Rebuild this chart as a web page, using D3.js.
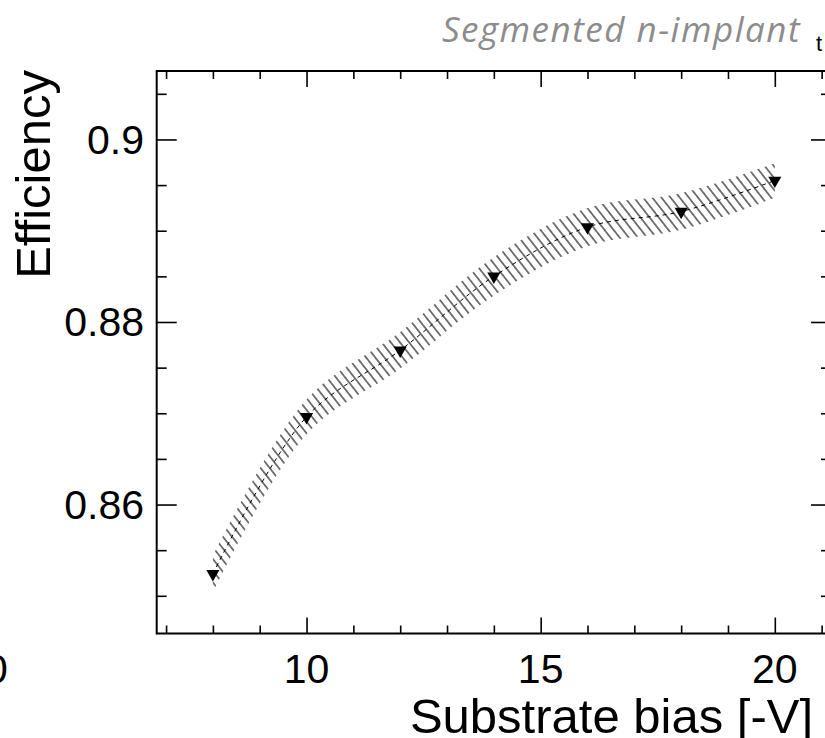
<!DOCTYPE html>
<html lang="en">
<head>
<meta charset="UTF-8">
<title>Efficiency vs substrate bias</title>
<script src="https://cdn.jsdelivr.net/npm/d3@7"></script>
<style>
  body { margin: 0; background: #fff; }
  svg { display: block; }
</style>
</head>
<body>
<svg width="825" height="738"></svg>
<script>
// values
var biasV = [8, 10, 12, 14, 16, 18, 20];
var efficiency = [0.8524, 0.8696, 0.8769, 0.8850, 0.8904, 0.8921, 0.8955];
var effErr = [0.0020, 0.0019, 0.0020, 0.0021, 0.0021, 0.0020, 0.0019];
var xMajorTicks = [10, 15, 20];
var xMinorTicks = [7, 8, 9, 11, 12, 13, 14, 16, 17, 18, 19, 21];
var yMajorTicks = [0.86, 0.88, 0.9];
var yMinorTicks = [0.85, 0.855, 0.865, 0.87, 0.875, 0.885, 0.89, 0.895, 0.905];

var data = biasV.map(function (v, i) {
    return { x: v, y: efficiency[i], e: effErr[i] };
});

// frame edges (the right one falls just outside the crop)
var fLeft = 156.7, fRight = 831, fTop = 71, fBottom = 633.5;

var x = d3.scaleLinear().domain([6.8, 21.2]).range([fLeft, fRight]);
var y = d3.scaleLinear().domain([0.84587, 0.9075]).range([fBottom, fTop]);

var svg = d3.select("svg");
var font = "'Liberation Sans', Arial, Helvetica, sans-serif";

// hatch pattern for the error band
var defs = svg.append("defs");
defs.append("pattern")
    .attr("id", "hatch")
    .attr("patternUnits", "userSpaceOnUse")
    .attr("width", 7.2)
    .attr("height", 20)
    .attr("patternTransform", "rotate(-38)")
    .append("line")
    .attr("x1", 3.6).attr("y1", -5)
    .attr("x2", 3.6).attr("y2", 25)
    .attr("stroke", "#333")
    .attr("stroke-width", 1.3);

var smooth = d3.curveCatmullRom.alpha(0.5);

var band = d3.area()
    .x(function (d) { return x(d.x); })
    .y0(function (d) { return y(d.y - d.e); })
    .y1(function (d) { return y(d.y + d.e); })
    .curve(smooth);

svg.append("path")
    .datum(data)
    .attr("d", band)
    .attr("fill", "url(#hatch)");

var line = d3.line()
    .x(function (d) { return x(d.x); })
    .y(function (d) { return y(d.y); })
    .curve(smooth);

svg.append("path")
    .datum(data)
    .attr("d", line)
    .attr("fill", "none")
    .attr("stroke", "#000")
    .attr("stroke-width", 1)
    .attr("stroke-dasharray", "4,4");

svg.selectAll(".pt")
    .data(data)
    .enter().append("path")
    .attr("class", "pt")
    .attr("d", d3.symbol().type(d3.symbolTriangle).size(75))
    .attr("transform", function (d) {
        return "translate(" + x(d.x) + "," + y(d.y) + ") rotate(180)";
    })
    .attr("fill", "#000");

// frame
svg.append("rect")
    .attr("x", fLeft).attr("y", fTop)
    .attr("width", fRight - fLeft).attr("height", fBottom - fTop)
    .attr("fill", "none")
    .attr("stroke", "#000")
    .attr("stroke-width", 2);

// axes with ROOT-style inward ticks
var xBottom = d3.axisTop(x).tickValues(xMajorTicks).tickSize(16).tickFormat("");
var xBottomMinor = d3.axisTop(x).tickValues(xMinorTicks).tickSize(8).tickFormat("");
var xTop = d3.axisBottom(x).tickValues(xMajorTicks).tickSize(16).tickFormat("");
var xTopMinor = d3.axisBottom(x).tickValues(xMinorTicks).tickSize(8).tickFormat("");
var yLeft = d3.axisRight(y).tickValues(yMajorTicks).tickSize(20).tickFormat("");
var yLeftMinor = d3.axisRight(y).tickValues(yMinorTicks).tickSize(10).tickFormat("");
var yRight = d3.axisLeft(y).tickValues(yMajorTicks).tickSize(20).tickFormat("");
var yRightMinor = d3.axisLeft(y).tickValues(yMinorTicks).tickSize(10).tickFormat("");

[[xBottom, 0, fBottom], [xBottomMinor, 0, fBottom], [xTop, 0, fTop], [xTopMinor, 0, fTop],
 [yLeft, fLeft, 0], [yLeftMinor, fLeft, 0], [yRight, fRight, 0], [yRightMinor, fRight, 0]]
    .forEach(function (a) {
        var g = svg.append("g")
            .attr("transform", "translate(" + a[1] + "," + a[2] + ")")
            .call(a[0]);
        g.select(".domain").remove();
        g.selectAll("line").attr("stroke", "#000").attr("stroke-width", 1.6);
    });

// tick labels
svg.selectAll(".xlab")
    .data(xMajorTicks)
    .enter().append("text")
    .attr("x", function (d) { return x(d); })
    .attr("y", 682.5)
    .attr("text-anchor", "middle")
    .style("font-family", font)
    .style("font-size", "41px")
    .text(function (d) { return d; });

svg.selectAll(".ylab")
    .data(yMajorTicks)
    .enter().append("text")
    .attr("x", 144)
    .attr("y", function (d) { return y(d) + 14.5; })
    .attr("text-anchor", "end")
    .style("font-family", font)
    .style("font-size", "41px")
    .text(function (d) { return d3.format("")(d); });

// axis titles
svg.append("text")
    .attr("x", 813).attr("y", 732.5)
    .attr("text-anchor", "end")
    .style("font-family", font)
    .style("font-size", "49px")
    .text("Substrate bias [-V]");

svg.append("text")
    .attr("transform", "translate(50,70) rotate(-90)")
    .attr("text-anchor", "end")
    .style("font-family", font)
    .style("font-size", "49px")
    .text("Efficiency");

// header label
svg.append("text")
    .attr("x", 801).attr("y", 42)
    .attr("text-anchor", "end")
    .style("font-family", "'Open Sans', Lato, sans-serif")
    .style("font-style", "italic")
    .style("font-size", "35px")
    .style("letter-spacing", "1.5px")
    .attr("fill", "#8c8c8c")
    .text("Segmented n-implant");

// fragments of neighbouring panels cut by the crop
svg.append("text")
    .attr("x", 816).attr("y", 51)
    .style("font-family", font)
    .style("font-size", "22px")
    .text("t");

svg.append("clipPath").attr("id", "leftcut")
    .append("rect").attr("x", 0).attr("y", 600).attr("width", 9).attr("height", 100);
svg.append("text")
    .attr("x", -15).attr("y", 682.5)
    .attr("clip-path", "url(#leftcut)")
    .style("font-family", font)
    .style("font-size", "41px")
    .text("00");
</script>
</body>
</html>
